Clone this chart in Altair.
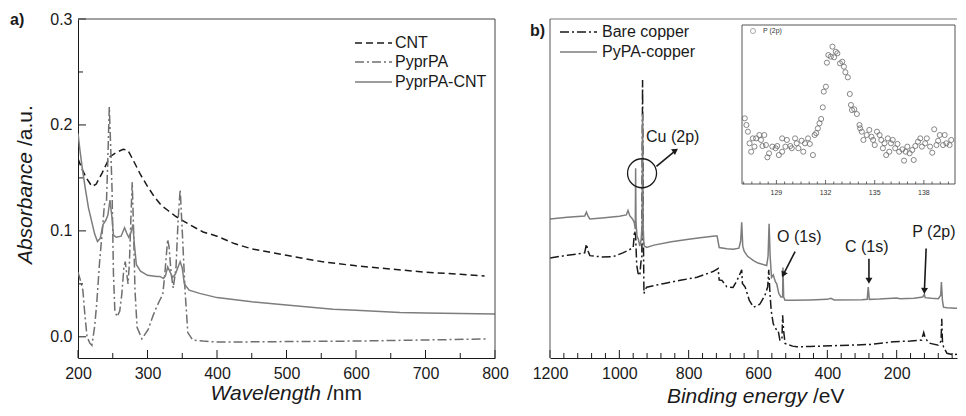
import altair as alt
import pandas as pd

# ---------------- Panel a : UV-vis absorbance ----------------
cnt_wl = [200, 206, 212, 220, 226, 235, 240, 246, 255, 265, 272, 280, 290, 300, 310, 320, 330, 340, 350, 360,
          380, 400, 425, 450, 475, 500, 550, 600, 650, 700, 750, 785]
cnt_abs = [0.168, 0.158, 0.150, 0.142, 0.144, 0.155, 0.162, 0.170, 0.174, 0.177, 0.176, 0.166, 0.153, 0.142,
           0.132, 0.124, 0.119, 0.114, 0.110, 0.106, 0.099, 0.095, 0.088, 0.083, 0.080, 0.077, 0.071, 0.067,
           0.064, 0.061, 0.059, 0.0575]

pa_wl = [200, 204, 207, 210, 213, 217, 220, 224, 227, 231, 235, 238, 241, 243, 245, 247, 249, 251, 253, 256,
         260, 263, 266, 268, 270, 272, 274, 276, 278, 280, 282, 285, 292, 301, 308, 313, 318, 322, 325, 329,
         331, 334, 337, 341, 344, 347, 350, 354, 358, 365, 380, 400, 500, 600, 700, 788]
pa_abs = [0.061, 0.052, 0.044, 0.020, 0.000, -0.006, -0.008, 0.010, 0.032, 0.070, 0.100, 0.125, 0.128, 0.170,
          0.217, 0.180, 0.139, 0.060, 0.025, 0.019, 0.024, 0.040, 0.065, 0.071, 0.060, 0.050, 0.070, 0.110,
          0.146, 0.100, 0.044, 0.009, -0.002, 0.007, 0.020, 0.028, 0.035, 0.040, 0.060, 0.092, 0.085, 0.060,
          0.046, 0.065, 0.110, 0.139, 0.100, 0.044, 0.004, -0.003, -0.004, -0.005, -0.0045, -0.004, -0.003,
          -0.002]

pacnt_wl = [200, 203, 206, 210, 215, 220, 224, 228, 232, 236, 240, 243, 246, 249, 251, 255, 262, 267, 270, 273,
            276, 279, 281, 284, 290, 300, 313, 318, 323, 326, 329, 332, 336, 340, 344, 347, 350, 353, 360, 375,
            400, 450, 500, 567, 600, 663, 700, 750, 800]
pacnt_abs = [0.192, 0.175, 0.160, 0.142, 0.122, 0.108, 0.097, 0.090, 0.093, 0.106, 0.110, 0.115, 0.129, 0.112,
             0.096, 0.094, 0.095, 0.103, 0.098, 0.094, 0.098, 0.106, 0.088, 0.068, 0.062, 0.058, 0.057, 0.057,
             0.055, 0.058, 0.066, 0.062, 0.056, 0.059, 0.066, 0.071, 0.065, 0.050, 0.044, 0.041, 0.037, 0.033,
             0.030, 0.026, 0.025, 0.023, 0.0225, 0.022, 0.0215]

a_xlabels = [200, 300, 400, 500, 600, 700, 800]
a_xminor = [250, 350, 450, 550, 650, 750]
a_ylabels = [0.0, 0.1, 0.2, 0.3]
a_yminor = [0.05, 0.15, 0.25]
legend_a = ["CNT", "PyprPA", "PyprPA-CNT"]

# ---------------- Panel b : XPS survey ----------------
bare_e = [1200, 1150, 1100, 1095, 1090, 1085, 1050, 1018, 990, 970, 960, 956, 953, 950, 946, 941, 938, 935, 933,
          931, 929, 926, 921, 870, 820, 776, 730, 715, 712, 704, 690, 672, 660, 650, 647, 645, 637, 625, 613,
          600, 594, 580, 572, 569, 566, 562, 556, 548, 542, 537, 531, 529, 526, 522, 500, 488, 450, 390, 330,
          276, 209, 160, 128, 122, 118, 110, 103, 80, 72, 70, 68, 65, 55, 40, 15, 8, 3, 0]
bare_i = [29.5, 30.3, 31.0, 33.6, 31.5, 30.2, 29.8, 29.9, 31.0, 32.0, 32.6, 37.5, 36.0, 27.5, 25.0, 24.3, 28.0,
          30.0, 82.0, 40.0, 19.0, 20.0, 20.9, 22.0, 23.0, 23.8, 25.5, 26.4, 23.0, 22.9, 21.0, 20.8, 23.0, 25.3,
          26.0, 22.0, 20.9, 17.0, 15.0, 15.5, 16.0, 18.5, 21.0, 26.0, 20.0, 14.0, 10.1, 8.5, 8.2, 5.3, 5.3,
          12.6, 8.0, 4.3, 3.5, 3.3, 3.4, 3.6, 3.8, 4.0, 4.8, 5.0, 5.3, 7.5, 6.0, 4.8, 4.3, 3.8, 5.0, 11.6, 5.0,
          3.3, 1.4, 1.0, 1.2, 2.0, 2.8, 5.0]

pypa_e = [1200, 1150, 1100, 1095, 1091, 1085, 1050, 1000, 980, 975, 970, 962, 957, 954, 953, 952, 949, 945, 941,
          937, 934, 933, 931, 928, 921, 900, 850, 800, 767, 725, 718, 712, 690, 671, 655, 650, 647, 644, 640,
          630, 613, 600, 575, 571, 568, 565, 561, 556, 550, 546, 540, 534, 529, 528, 526, 522, 500, 450, 400,
          390, 380, 300, 285, 282, 279, 250, 200, 190, 150, 125, 120, 118, 100, 80, 73, 71, 68, 65, 55, 30, 10,
          3, 0]
pypa_i = [41.0, 41.5, 41.9, 43.0, 42.0, 41.0, 41.3, 41.8, 42.2, 43.5, 42.0, 41.0, 40.0, 38.0, 56.0, 40.0, 36.0,
          35.0, 33.0, 35.0, 40.0, 72.0, 36.0, 33.0, 32.6, 33.3, 34.3, 35.0, 35.5, 36.0, 36.0, 32.6, 32.2, 32.1,
          32.4, 34.5, 40.0, 33.0, 31.5, 30.0, 28.7, 28.0, 27.3, 30.0, 39.6, 30.0, 23.8, 24.5, 22.5, 21.9, 19.0,
          18.0, 18.0, 26.7, 18.0, 17.0, 17.0, 17.1, 17.3, 17.6, 17.1, 17.2, 17.3, 20.9, 17.3, 17.4, 17.7, 17.5,
          17.6, 18.0, 18.8, 17.8, 17.6, 17.5, 18.5, 22.4, 17.0, 15.0, 14.8, 14.7, 14.7, 15.0, 17.0]

b_xlabels = [1200, 1000, 800, 600, 400, 200]
b_xminor = [e for e in range(1160, 30, -40) if e % 200 != 0]
legend_b = ["Bare copper", "PyPA-copper"]

# annotations (binding energy, intensity)
ann_label = ["Cu (2p)", "O (1s)", "C (1s)", "P (2p)"]
ann_e = [923, 545, 349, 155]
ann_i = [65.1, 35.8, 32.6, 37.2]
arrow_e1 = [893, 493, 280, 115]
arrow_i1 = [56.5, 31.4, 29.3, 32.3]
arrow_e2 = [838, 527, 280, 120]
arrow_i2 = [61.2, 24.6, 22.8, 19.8]
arrow_angle = [56, 205, 180, 182]
ring_e = [934.5]
ring_i = [54.5]

# inset : P (2p) high-resolution spectrum
inset_e = [127.07, 127.17, 127.26, 127.56, 127.36, 127.46, 127.66, 127.76, 127.96, 128.06,
           128.26, 128.15, 128.36, 128.45, 128.55, 128.75, 128.95, 129.15, 129.05, 129.35,
           129.35, 129.55, 129.64, 129.85, 129.94, 130.14, 130.24, 130.34, 130.54, 130.64,
           130.74, 130.93, 131.04, 131.23, 131.33, 131.43, 131.53, 131.63, 131.73, 131.83,
           131.89, 132.02, 132.08, 132.17, 132.32, 132.42, 132.52, 132.62, 132.72, 132.88,
           133.02, 133.12, 133.21, 133.36, 133.48, 133.55, 133.61, 133.75, 133.91, 134.07,
           134.11, 134.21, 134.31, 134.51, 134.67, 134.80, 134.90, 135.00, 135.14, 135.30,
           135.40, 135.50, 135.60, 135.70, 135.80, 135.89, 135.99, 136.10, 136.25, 136.39,
           136.49, 136.69, 136.79, 136.89, 136.99, 137.13, 137.38, 137.29, 137.48, 137.64,
           137.78, 137.88, 138.08, 138.18, 138.38, 138.51, 138.63, 138.77, 138.87, 138.97,
           139.17, 139.27, 139.37, 139.57, 139.67]
inset_i = [41.3, 37.1, 32.9, 28.7, 25.6, 20.3, 23.5, 28.7, 30.8, 27.7,
           30.8, 23.9, 24.5, 16.8, 19.3, 23.5, 22.5, 18.2, 23.9, 28.7,
           20.3, 23.5, 27.7, 23.9, 22.5, 28.7, 25.6, 22.5, 27.2, 20.3,
           25.6, 28.7, 25.2, 18.2, 30.8, 32.0, 35.0, 38.2, 40.9, 48.2,
           58.1, 61.2, 76.3, 81.1, 80.1, 86.4, 79.7, 83.2, 82.2, 75.9,
           76.9, 73.8, 70.3, 67.1, 56.6, 49.7, 46.5, 47.0, 44.0, 37.1,
           35.0, 32.9, 27.7, 30.8, 34.0, 29.7, 27.7, 24.5, 32.9, 30.8,
           27.7, 22.5, 25.6, 18.2, 28.7, 20.3, 25.6, 27.7, 22.5, 25.2,
           20.3, 21.8, 14.7, 20.3, 23.5, 19.3, 15.1, 21.4, 23.9, 26.6,
           28.7, 23.5, 25.6, 28.7, 23.5, 19.7, 34.4, 24.5, 27.2, 30.8,
           24.5, 30.8, 25.6, 24.5, 27.7]
inset_labels = [129, 132, 135, 138]
inset_minor = [v / 2 for v in range(254, 280) if v % 6 != 0]

# axis titles: (quantity in italics, unit upright)
title_a_x = ("Wavelength", "/nm")
title_a_y = ("Absorbance", "/a.u.")
title_b_x = ("Binding energy", "/eV")

# ---------------- styling ----------------
FONT = "Liberation Sans"
INK = "#1a1a1a"
GREY = "#7d7d7d"
DASH = [7, 4]
DASHDOT = [9, 3, 2, 3]
W_A, W_B, H = 417, 407, 339
ONE = alt.Data(values=[{"k": 1}])

xa = alt.Scale(domain=[200, 800], nice=False, zero=False)
ya = alt.Scale(domain=[-0.02, 0.3], nice=False, zero=False)
xb = alt.Scale(domain=[1200, 26], nice=False, zero=False)   # right end cut, as in the original figure
yb = alt.Scale(domain=[0, 100], nice=False, zero=False)
xi = alt.Scale(domain=[126.9, 139.9], range=[192, 405], nice=False, zero=False)
yi = alt.Scale(domain=[0, 100], range=[165, 6], nice=False, zero=False)

common_axis = dict(title=None, labelFontSize=16, labelColor=INK, labelFlush=False, labelOverlap=False,
                   ticks=False, tickSize=0, grid=False, domainColor=INK)
axis_xa = alt.Axis(values=a_xlabels, format="d", labelPadding=7, **common_axis)
axis_ya = alt.Axis(values=a_ylabels, format=".1f", labelPadding=6, **common_axis)
axis_xb = alt.Axis(values=b_xlabels, format="d", labelPadding=7, **common_axis)


def line(x, y, fx, fy, sx, sy, color, ax, ay, dash=None):
    df = pd.DataFrame({fx: x, fy: y, "i": list(range(len(x)))})
    kw = {"strokeDash": dash} if dash else {}
    return alt.Chart(df).mark_line(color=color, strokeWidth=1.5, clip=True, **kw).encode(
        x=alt.X(f"{fx}:Q", scale=sx, axis=ax),
        y=alt.Y(f"{fy}:Q", scale=sy, axis=ay),
        order=alt.Order("i:Q"),
    )


def xticks(vals, field, scale, ax, length, bottom=H, color=INK, width=1):
    df = pd.DataFrame({field: vals})
    return alt.Chart(df).mark_rule(color=color, strokeWidth=width).encode(
        x=alt.X(f"{field}:Q", scale=scale, axis=ax), y=alt.value(bottom), y2=alt.value(bottom - length))


def yticks(vals, field, scale, ax, length):
    df = pd.DataFrame({field: vals})
    return alt.Chart(df).mark_rule(color=INK, strokeWidth=1).encode(
        y=alt.Y(f"{field}:Q", scale=scale, axis=ax), x=alt.value(0), x2=alt.value(length))


def frame_rule(color, x, y, x2=None, y2=None):
    enc = {"x": alt.value(x), "y": alt.value(y)}
    if x2 is not None:
        enc["x2"] = alt.value(x2)
    if y2 is not None:
        enc["y2"] = alt.value(y2)
    return alt.Chart(ONE).mark_rule(color=color, strokeWidth=1).encode(**enc)


def legend(entries, x0, x1, xt, fs=16):
    out = []
    for label, y, color, dash in entries:
        kw = {"strokeDash": dash} if dash else {}
        out.append(alt.Chart(ONE).mark_rule(color=color, strokeWidth=1.5, **kw).encode(
            x=alt.value(x0), x2=alt.value(x1), y=alt.value(y)))
        out.append(alt.Chart(ONE).mark_text(align="left", baseline="middle", fontSize=fs, color=INK).encode(
            x=alt.value(xt), y=alt.value(y), text=alt.value(label)))
    return out


def tag(txt, x, y):
    return alt.Chart(ONE).mark_text(align="left", baseline="middle", fontSize=16, fontWeight="bold",
                                    color=INK).encode(x=alt.value(x), y=alt.value(y), text=alt.value(txt))


def htitle(parts, split, gap, y):
    it = alt.Chart(ONE).mark_text(align="right", baseline="alphabetic", fontSize=21, fontStyle="italic",
                                  color=INK).encode(x=alt.value(split), y=alt.value(y), text=alt.value(parts[0]))
    up = alt.Chart(ONE).mark_text(align="left", baseline="alphabetic", fontSize=21,
                                  color=INK).encode(x=alt.value(split + gap), y=alt.value(y),
                                                    text=alt.value(parts[1]))
    return [it, up]


def vtitle(parts, x, split, gap):
    it = alt.Chart(ONE).mark_text(align="right", baseline="middle", fontSize=21, fontStyle="italic", angle=270,
                                  color=INK).encode(x=alt.value(x), y=alt.value(split), text=alt.value(parts[0]))
    up = alt.Chart(ONE).mark_text(align="left", baseline="middle", fontSize=21, angle=270,
                                  color=INK).encode(x=alt.value(x), y=alt.value(split - gap),
                                                    text=alt.value(parts[1]))
    return [it, up]


def arrow(k):
    seg = pd.DataFrame({"be": [arrow_e1[k]], "inten": [arrow_i1[k]],
                        "be2": [arrow_e2[k]], "inten2": [arrow_i2[k]], "ang": [arrow_angle[k]]})
    shaft = alt.Chart(seg).mark_rule(color=INK, strokeWidth=1.6).encode(
        x=alt.X("be:Q", scale=xb, axis=axis_xb), y=alt.Y("inten:Q", scale=yb, axis=None),
        x2="be2:Q", y2="inten2:Q")
    head = alt.Chart(seg).mark_point(shape="triangle-up", filled=True, size=48, color=INK, opacity=1).encode(
        x=alt.X("be2:Q", scale=xb, axis=axis_xb), y=alt.Y("inten2:Q", scale=yb, axis=None),
        angle=alt.Angle("ang:Q", scale=None))
    return [shaft, head]


# ---------------- Panel a ----------------
a_layers = [
    line(cnt_wl, cnt_abs, "wl", "abs", xa, ya, INK, axis_xa, axis_ya, DASH),
    line(pa_wl, pa_abs, "wl", "abs", xa, ya, "#6f6f6f", axis_xa, axis_ya, DASHDOT),
    line(pacnt_wl, pacnt_abs, "wl", "abs", xa, ya, GREY, axis_xa, axis_ya),
    xticks(a_xlabels, "wl", xa, axis_xa, 8),
    xticks(a_xminor, "wl", xa, axis_xa, 5),
    yticks(a_ylabels, "abs", ya, axis_ya, 8),
    yticks(a_yminor, "abs", ya, axis_ya, 5),
    frame_rule("#444", 0, 0, x2=W_A),
    frame_rule("#444", W_A, 0, y2=H),
    *legend([(legend_a[0], 24, INK, DASH), (legend_a[1], 43, "#6f6f6f", DASHDOT), (legend_a[2], 63, GREY, None)],
            277, 314, 317),
    tag("a)", -68, 1),
    *htitle(title_a_x, 243, 6, 381),
    *vtitle(title_a_y, -52, 133, 6),
]
panel_a = alt.layer(*a_layers).properties(width=W_A, height=H)

# ---------------- Panel b ----------------
ann_df = pd.DataFrame({"be": ann_e, "inten": ann_i, "label": ann_label})
ring_df = pd.DataFrame({"be": ring_e, "inten": ring_i})

b_main = [
    line(bare_e, bare_i, "be", "inten", xb, yb, INK, axis_xb, None, DASHDOT),
    line(pypa_e, pypa_i, "be", "inten", xb, yb, GREY, axis_xb, None),
    xticks(b_xlabels, "be", xb, axis_xb, 8),
    xticks(b_xminor, "be", xb, axis_xb, 5),
    frame_rule("#777", 0, 0, x2=W_B),
    frame_rule("#555", 0, 0, y2=H),
    alt.Chart(ring_df).mark_point(shape="circle", filled=False, size=841, color=INK, strokeWidth=1.3,
                                  opacity=1).encode(
        x=alt.X("be:Q", scale=xb, axis=axis_xb), y=alt.Y("inten:Q", scale=yb, axis=None)),
    alt.Chart(ann_df).mark_text(align="left", baseline="middle", fontSize=16, color=INK).encode(
        x=alt.X("be:Q", scale=xb, axis=axis_xb), y=alt.Y("inten:Q", scale=yb, axis=None), text="label:N"),
    *legend([(legend_b[0], 13, INK, DASHDOT), (legend_b[1], 33, GREY, None)], 10, 47, 52),
    tag("b)", -20, 12),
    *htitle(title_b_x, 257, 6, 384),
]
for k in range(len(arrow_e1)):
    b_main.extend(arrow(k))

inset_df = pd.DataFrame({"pe": inset_e, "pi": inset_i})
inset_lab_df = pd.DataFrame({"pe": inset_labels, "txt": [str(v) for v in inset_labels]})
b_inset = [
    alt.Chart(ONE).mark_rect(fill="white", stroke="#555", strokeWidth=1).encode(
        x=alt.value(192), x2=alt.value(405), y=alt.value(6), y2=alt.value(165)),
    xticks(inset_labels, "pe", xi, None, 4, bottom=165, color="#444", width=0.8),
    xticks(inset_minor, "pe", xi, None, 2.5, bottom=165, color="#444", width=0.8),
    alt.Chart(inset_df).mark_point(shape="circle", filled=False, size=26, color="#6a6a6a", strokeWidth=0.8,
                                   opacity=1).encode(
        x=alt.X("pe:Q", scale=xi, axis=None), y=alt.Y("pi:Q", scale=yi, axis=None)),
    alt.Chart(inset_lab_df).mark_text(fontSize=7, color="#333", baseline="middle").encode(
        x=alt.X("pe:Q", scale=xi, axis=None), y=alt.value(174), text="txt:N"),
    alt.Chart(ONE).mark_point(shape="circle", filled=False, size=26, color="#6a6a6a", strokeWidth=0.8).encode(
        x=alt.value(203), y=alt.value(12)),
    alt.Chart(ONE).mark_text(align="left", baseline="middle", fontSize=7, color="#333").encode(
        x=alt.value(213), y=alt.value(12), text=alt.value("P (2p)")),
]

panel_b = alt.layer(alt.layer(*b_main), alt.layer(*b_inset)).resolve_scale(
    x="independent", y="independent").properties(width=W_B, height=H)

chart = alt.hconcat(panel_a, panel_b, spacing=55, bounds="flush").properties(
    padding={"left": 2, "top": 3, "right": 0, "bottom": 0}
).configure(font=FONT).configure_view(stroke="transparent", strokeWidth=0)

chart.save("out.html", embed_options={"renderer": "svg", "actions": False})
